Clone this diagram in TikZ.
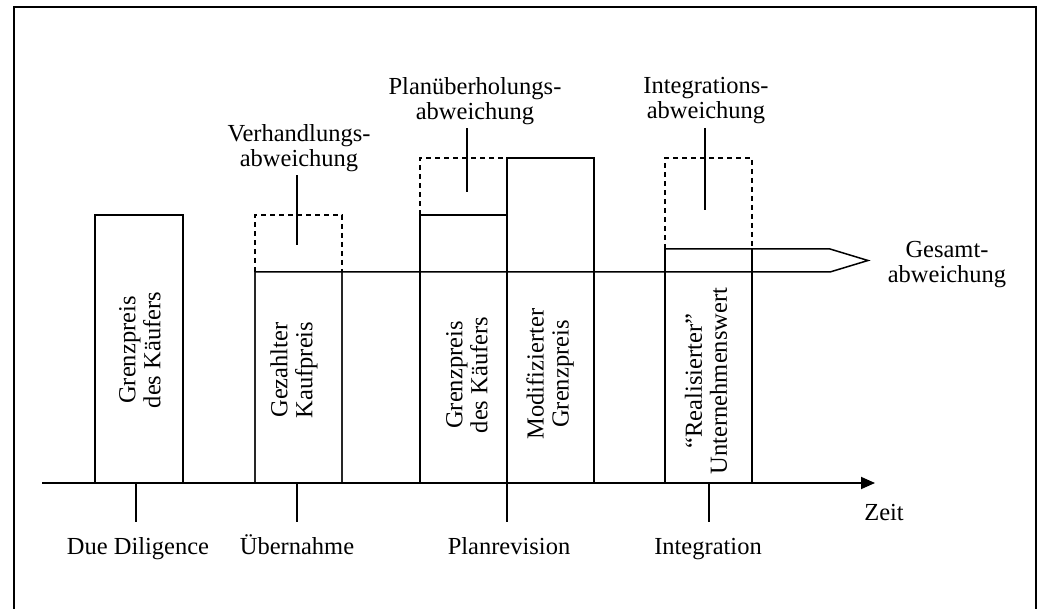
\documentclass[tikz,border=0pt]{standalone}
\usepackage{fontspec}
\setmainfont{Liberation Serif}
\usetikzlibrary{arrows.meta}
\begin{document}
\begin{tikzpicture}[x=1pt,y=-1pt,
  every node/.style={font=\fontsize{24.5}{25}\selectfont, inner sep=0pt},
  frameline/.style={line width=2.6pt, line join=miter},
  bar/.style={line width=1.5pt},
  thinbar/.style={line width=1.1pt, black!85},
  dashbox/.style={line width=1.3pt, dash pattern=on 5pt off 4pt},
  axisline/.style={line width=1.8pt, -{Triangle[length=14pt,width=12pt]}},
  tick/.style={line width=1.3pt},
  lbl/.style={align=center, outer sep=3.5pt},
  vlbl/.style={align=center, rotate=90}]
\useasboundingbox (0,0) rectangle (1041,609);
\fill[white] (0,0) rectangle (1041,609);
\draw[frameline] (14,616) -- (14,7) -- (1036,7) -- (1036,616);

% bars
\draw[bar] (95,483) rectangle (183,215);
\draw[thinbar] (255,483) -- (255,272) (342,483) -- (342,272);
\draw[dashbox] (255,272) -- (255,215) -- (342,215) -- (342,272);
\draw[bar] (420,483) -- (420,215) -- (507,215);
\draw[dashbox] (420,215) -- (420,158) -- (507,158);
\draw[bar] (507,483) rectangle (594,158);
\draw[bar] (420,483) -- (507,483);
\draw[bar] (665,483) -- (665,249) (752,483) -- (752,249);
\draw[dashbox] (665,249) -- (665,158) -- (752,158) -- (752,249);

% Gesamtabweichung arrow
\draw[bar, line join=miter] (665,249) -- (830,249) -- (868,260.5) -- (830,272) -- (255,272);

% time axis
\coordinate (axL) at (42,483);
\coordinate (axR) at (875,483);
\draw[axisline] (axL) -- (axR);
\node[anchor=base] (zeit) at (884,520) {Zeit};

% texts inside bars
\node[vlbl] (t1) at (140,350) {Grenzpreis\\des Käufers};
\node[vlbl] (t2) at (294,370) {Gezahlter\\Kaufpreis};
\node[vlbl] (t3) at (467,375) {Grenzpreis\\des Käufers};
\node[vlbl] (t4) at (550,374) {Modifizierter\\Grenzpreis};
\node[vlbl] (t5) at (706,381) {“Realisierter”\\Unternehmenswert};

% deviation labels
\node[lbl] (verh) at (299,148) {Verhandlungs-\\abweichung};
\coordinate (verhE) at (297,245);
\draw[tick] (verh.south -| verhE) -- (verhE);

\node[lbl] (plan) at (475,101) {Planüberholungs-\\abweichung};
\coordinate (planE) at (467,192);
\draw[tick] (plan.south -| planE) -- (planE);

\node[lbl] (integ) at (706,101) {Integrations-\\abweichung};
\coordinate (integE) at (705,210);
\draw[tick] (integ.south -| integE) -- (integE);

\node[lbl] (ges) at (947,265) {Gesamt-\\abweichung};

% phase labels
\node[anchor=base] (dd) at (138,554) {Due Diligence};
\node[anchor=base] (ueb) at (297,554) {Übernahme};
\node[anchor=base] (prev) at (509,554) {Planrevision};
\node[anchor=base] (intg) at (708,554) {Integration};
\coordinate (ddA) at (136,483);  \coordinate (ddB) at (136,522);
\coordinate (uebA) at (297,483); \coordinate (uebB) at (297,522);
\coordinate (prA) at (507,483);  \coordinate (prB) at (507,522);
\coordinate (inA) at (709,483);  \coordinate (inB) at (709,522);
\draw[tick] (ddA) -- (ddB);
\draw[tick] (uebA) -- (uebB);
\draw[tick] (prA) -- (prB);
\draw[tick] (inA) -- (inB);
\end{tikzpicture}
\end{document}
